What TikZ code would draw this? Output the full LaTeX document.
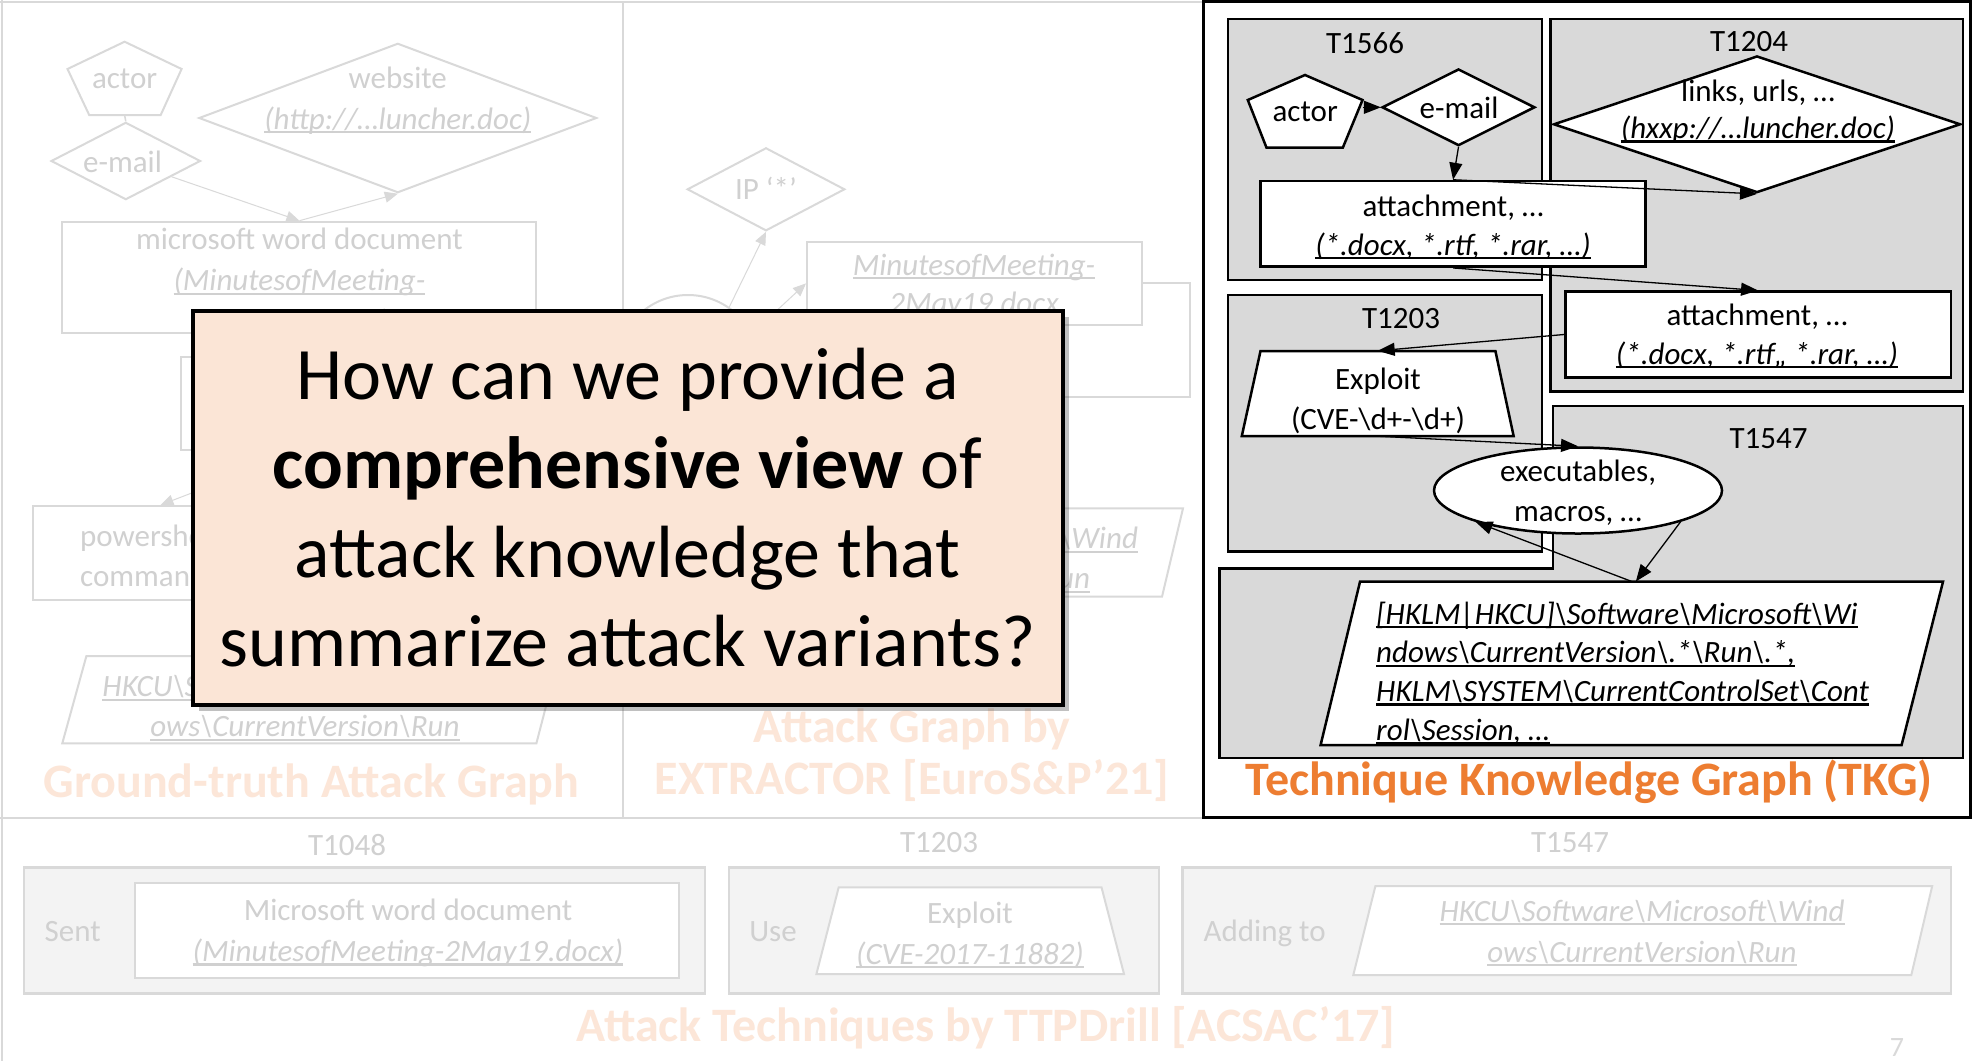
\documentclass[tikz,border=0pt]{standalone}
\usepackage{fontspec}
\setmainfont{Carlito}
\usetikzlibrary{shapes.geometric,arrows.meta,shadows}

\definecolor{fadeline}{HTML}{D9D9D9}
\definecolor{fadetext}{HTML}{D0D0D0}
\definecolor{fadeorange}{HTML}{FCE6D8}
\definecolor{tkgorange}{HTML}{ED7D31}
\definecolor{tgray}{HTML}{D9D9D9}
\definecolor{calloutfill}{HTML}{FBE5D6}
\definecolor{techfill}{HTML}{F3F3F3}

\newcommand\bsl{\textbackslash}
\newsavebox\ulbox
% italic text with an underline close to the baseline
\newcommand\uit[1]{\sbox\ulbox{\itshape #1}\rlap{\rule[-0.13em]{\wd\ulbox}{0.07em}}\usebox\ulbox}

\begin{document}
\begin{tikzpicture}[x=1pt,y=-1pt,
  frameline/.style={draw=fadeline,line width=2.5pt},
  fadeshape/.style={draw=fadeline,line width=2pt,fill=white,inner sep=0pt},
  techbox/.style={draw=fadeline,line width=2.5pt,fill=techfill,inner sep=0pt},
  fadetxt/.style={text=fadetext,font=\fontsize{31}{40}\selectfont,align=center,inner sep=0pt},
  fadearrow/.style={draw=fadeline,line width=1pt,-{Triangle[length=13pt,width=11pt]}},
  fadelink/.style={draw=fadeline,line width=1.5pt},
  title/.style={font=\fontsize{48}{52}\selectfont\bfseries,align=center,inner sep=0pt},
  tframe/.style={draw=black,line width=3pt},
  tbox/.style={draw=black,fill=tgray,line width=2.5pt,inner sep=0pt},
  tnode/.style={draw=black,fill=white,line width=2.5pt,inner sep=0pt},
  tbound/.style={inner sep=0pt},
  ttxt/.style={font=\fontsize{31}{38.5}\selectfont,align=center,inner sep=0pt},
  tarrow/.style={draw=black,line width=1.3pt,-{Triangle[length=17pt,width=13pt]}},
  callout/.style={draw=black,line width=4pt,fill=calloutfill,inner sep=0pt,
    minimum width=870pt,minimum height=394pt,align=center,
    font=\fontsize{74}{89}\selectfont,
    drop shadow={shadow xshift=6pt,shadow yshift=-6pt,opacity=.35,fill=black!70}},
]

% canvas
\useasboundingbox (0,0) rectangle (1972,1061);
\fill[white] (0,0) rectangle (1972,1061);

% panel frame lines
\draw[frameline] (0,2) -- (1203,2);
\draw[frameline] (2,0) -- (2,1061);
\draw[frameline] (623,2) -- (623,818);
\draw[frameline] (0,818) -- (1203,818);

% ===== Ground-truth attack graph =====
\draw[fadeshape] (124.6,41.7) -- (181.6,69) -- (160.7,115) -- (89.2,115) -- (67.5,69) -- cycle;
\node[fadetxt,minimum width=114pt,minimum height=73pt] (gactor) at (124.6,78.4) {actor};
\node[fadeshape,diamond,minimum width=149.5pt,minimum height=77.3pt] (gemail) at (125.8,161) {};
\node[fadetxt] (gemail-t) at (122.5,162) {e-mail};
\node[fadeshape,diamond,minimum width=397.8pt,minimum height=149.4pt] (gweb) at (397.8,118) {};
\node[fadetxt,font=\fontsize{31}{41}\selectfont] (gweb-t) at (397.8,100.5) {website\\\uit{(http://…luncher.doc)}};
\node[fadeshape,minimum width=474pt,minimum height=111.6pt] (gdoc) at (299.4,277.5) {};
\node[fadetxt,font=\fontsize{31}{41}\selectfont] (gdoc-t) at (299.4,282.5)
  {microsoft word document\\\uit{(MinutesofMeeting-}\\\uit{2May19.docx)}};
\node[fadeshape,minimum width=240pt,minimum height=93pt] (ghid) at (301,403.5) {};
\node[fadeshape,minimum width=255pt,minimum height=94pt] (gps) at (160.5,553) {};
\node[fadetxt,align=left,anchor=west,font=\fontsize{31}{40}\selectfont] (gps-t) at (80,555.5) {powershell\\command};
\draw[fadeshape] (86.4,656) -- (559,656) -- (536.4,743.3) -- (62.3,743.3) -- cycle;
\node[fadetxt] (greg) at (305,708)
  {\uit{HKCU\bsl Software\bsl Microsoft\bsl Wind}\\\uit{ows\bsl CurrentVersion\bsl Run}};
\draw[fadelink] (gactor.south) -- (gemail.north);
\draw[fadearrow] (gemail) -- (gdoc.north);
\draw[fadearrow] (gdoc.north) -- (gweb.south);
\draw[fadearrow] (ghid.south) -- (gps.north);
\node[title,text=fadeorange] (gtitle) at (311.4,784) {Ground-truth Attack Graph};

% ===== Attack graph by EXTRACTOR =====
\node[fadeshape,diamond,minimum width=157.6pt,minimum height=83pt] (gip) at (766,189.3) {};
\node[fadetxt] (gip-t) at (766,188) {IP ‘*’};
\node[fadeshape,circle,minimum size=142pt] (gcirc) at (688,366) {};
\node[fadeshape,minimum width=290pt,minimum height=114pt] (gback) at (1045,340) {};
\node[fadeshape,minimum width=335pt,minimum height=83.3pt] (gmm) at (974.5,283.4) {};
\node[fadetxt,font=\fontsize{31}{38}\selectfont] (gmm-t) at (974,286) {\uit{MinutesofMeeting-}\\\uit{2May19.docx}};
\draw[fadeshape] (710,508.3) -- (1183,508.3) -- (1162,596.7) -- (687,596.7) -- cycle;
\node[fadetxt] (greg2) at (935.5,560)
  {\uit{HKCU\bsl Software\bsl Microsoft\bsl Wind}\\\uit{ows\bsl CurrentVersion\bsl Run}};
\draw[fadearrow] (gcirc.55) -- (gip.south);
\draw[fadearrow] (gcirc.27) -- (gmm.west);
\node[title,text=fadeorange] (etitle) at (912,755) {Attack Graph by\\EXTRACTOR [EuroS\&P’21]};

% ===== question box =====
\node[callout] (q) at (627.6,507.5)
  {How can we provide a\\{\bfseries comprehensive view} of\\attack knowledge that\\summarize attack variants?};

% ===== Technique knowledge graph =====
\draw[tframe] (1203,1.5) rectangle (1970,817);
\node[tbox,minimum width=314pt,minimum height=261pt] (t1566) at (1385.1,149.5) {};
\node[ttxt] (t1566-l) at (1365,43) {T1566};
\node[tbox,minimum width=412.6pt,minimum height=372.7pt] (t1204) at (1756.8,205.35) {};
\node[ttxt] (t1204-l) at (1749,42) {T1204};
\node[tbox,minimum width=314pt,minimum height=256.7pt] (t1203) at (1385,423.35) {};
\node[ttxt] (t1203-l) at (1401,319) {T1203};
\draw[tbox] (1553,406) -- (1963,406) -- (1963,758) -- (1219.7,758) -- (1219.7,568.3) -- (1553,568.3) -- cycle;
\node[ttxt] (t1547-l) at (1768.6,438.5) {T1547};

\draw[tnode] (1305,75) -- (1362.5,100) -- (1342.8,147.7) -- (1266.5,147.7) -- (1247.8,100) -- cycle;
\node[ttxt,minimum width=114.7pt,minimum height=72.7pt] (actor) at (1305.2,111.4) {actor};
\node[tnode,diamond,minimum width=152.8pt,minimum height=76.7pt] (email) at (1458.5,107.3) {};
\node[ttxt] (email-t) at (1459,108) {e-mail};
\node[tnode,diamond,minimum width=407pt,minimum height=136.7pt] (links) at (1757,124.3) {};
\node[ttxt,font=\fontsize{31}{37.5}\selectfont] (links-t) at (1758,111.5) {links, urls, …\\\uit{(hxxp://…luncher.doc)}};
\node[tnode,minimum width=384.9pt,minimum height=85.7pt] (att1) at (1453.05,223.85) {};
\node[ttxt] (att1-t) at (1453,227.5) {attachment, …\\\uit{(*.docx, *.rtf, *.rar, …)}};
\node[tnode,minimum width=385.5pt,minimum height=85.6pt] (att2) at (1758.05,334.5) {};
\node[ttxt] (att2-t) at (1757,336.4) {attachment, …\\\uit{(*.docx, *.rtf,, *.rar, …)}};
\draw[tnode] (1260.5,351) -- (1495.4,351) -- (1513.6,436) -- (1241.8,436) -- cycle;
\node[tbound,minimum width=271.8pt,minimum height=85pt] (exploit) at (1377.7,393.5) {};
\node[ttxt,font=\fontsize{31}{40}\selectfont] (exploit-t) at (1378,400.5) {Exploit\\(CVE-\bsl d+-\bsl d+)};
\node[tnode,ellipse,minimum width=288pt,minimum height=86pt] (exec) at (1578,490.5) {};
\node[ttxt,font=\fontsize{31}{40}\selectfont] (exec-t) at (1578,493) {executables,\\macros, …};
\draw[tnode] (1360,581.7) -- (1943,581.7) -- (1901.6,745) -- (1320.6,745) -- cycle;
\node[tbound,minimum width=622.4pt,minimum height=163.3pt] (reg) at (1631.8,663.35) {};
\node[ttxt,align=left,anchor=west,font=\fontsize{31}{38.7}\selectfont] (reg-t) at (1376,673)
  {\uit{[HKLM|HKCU]\bsl Software\bsl Microsoft\bsl Wi}\\
   \uit{ndows\bsl CurrentVersion\bsl.*\bsl Run\bsl.*,}\\
   \uit{HKLM\bsl SYSTEM\bsl CurrentControlSet\bsl Cont}\\
   \uit{rol\bsl Session, …}};

\draw[tarrow] (actor.east |- email.west) -- (email.west);
\draw[tarrow] (email.south) -- (att1.north);
\draw[tarrow] (att1.north) -- (links.south);
\draw[tarrow] (att1.south) -- (att2.north);
\draw[tarrow] (att2.west) -- (exploit.north);
\draw[tarrow] (exploit.south) -- (exec.north);
\draw[tarrow] (exec.-17) -- ([xshift=4pt]reg.north);
\draw[tarrow] (reg.north) -- (exec.197);
\node[title,text=tkgorange] (ttitle) at (1589,782) {Technique Knowledge Graph (TKG)};

% ===== Attack techniques by TTPDrill =====
\node[techbox,minimum width=680.8pt,minimum height=126pt] (b1048) at (364.4,930.3) {};
\node[fadetxt] (b1048-l) at (347,845) {T1048};
\node[fadetxt] (b1048-v) at (72.7,932) {Sent};
\node[fadeshape,minimum width=544pt,minimum height=95.6pt] (bdoc) at (407,930.5) {};
\node[fadetxt,font=\fontsize{31}{41}\selectfont] (bdoc-t) at (408,933)
  {Microsoft word document\\\uit{(MinutesofMeeting-2May19.docx)}};
\node[techbox,minimum width=430pt,minimum height=126pt] (b1203) at (944,930.3) {};
\node[fadetxt] (b1203-l) at (939,843) {T1203};
\node[fadetxt] (b1203-v) at (773,932) {Use};
\draw[fadeshape] (838.7,887.3) -- (1101.5,887.3) -- (1124,974) -- (816.4,974) -- cycle;
\node[fadetxt,font=\fontsize{31}{41}\selectfont] (bexp-t) at (970,935) {Exploit\\\uit{(CVE-2017-11882)}};
\node[techbox,minimum width=768.7pt,minimum height=126pt] (b1547) at (1566.85,930.3) {};
\node[fadetxt] (b1547-l) at (1570,843) {T1547};
\node[fadetxt] (b1547-v) at (1264.7,933) {Adding to};
\draw[fadeshape] (1375.4,886) -- (1932.2,886) -- (1911.3,975) -- (1353.3,975) -- cycle;
\node[fadetxt,font=\fontsize{31}{41}\selectfont] (breg-t) at (1642,933)
  {\uit{HKCU\bsl Software\bsl Microsoft\bsl Wind}\\\uit{ows\bsl CurrentVersion\bsl Run}};
\node[title,text=fadeorange] (btitle) at (986,1028) {Attack Techniques by TTPDrill [ACSAC’17]};
\node[text=fadeline,font=\fontsize{28}{30}\selectfont,inner sep=0pt] (pageno) at (1897,1047) {7};

\end{tikzpicture}
\end{document}
